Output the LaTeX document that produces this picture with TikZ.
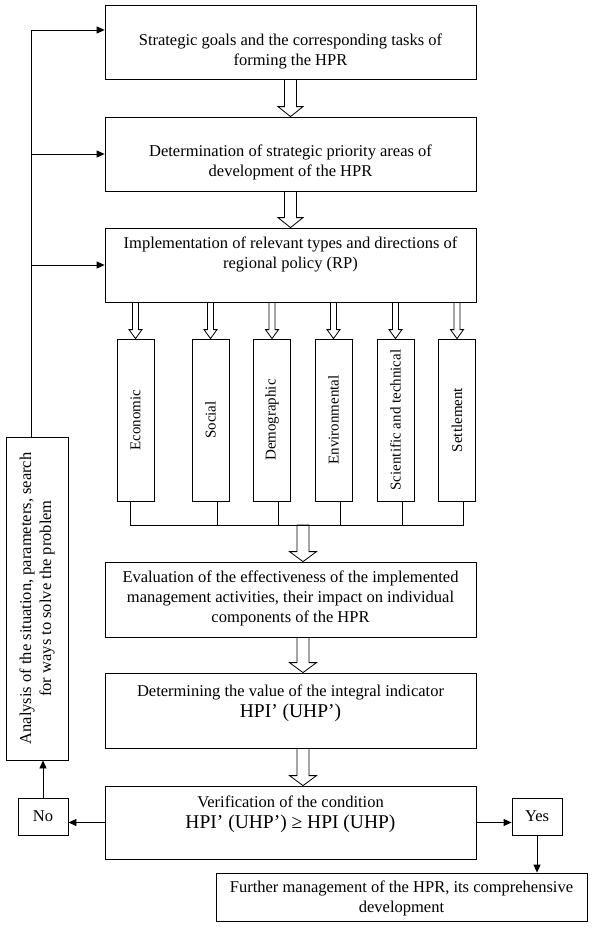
\documentclass[tikz,border=0pt]{standalone}
\usepackage{fontspec}
\setmainfont{Liberation Serif}
\usetikzlibrary{arrows.meta,calc}
\newcommand{\harw}[6]{% from, to, xoffset, half shaft, half head, head length
  \draw[fill=white] let \p1=(#1), \p2=(#2) in
    ({\x2+#3pt-#4pt},\y1) -- ({\x2+#3pt-#4pt},{\y2+#6pt}) -- ({\x2+#3pt-#5pt},{\y2+#6pt})
    -- ({\x2+#3pt},\y2) -- ({\x2+#3pt+#5pt},{\y2+#6pt}) -- ({\x2+#3pt+#4pt},{\y2+#6pt})
    -- ({\x2+#3pt+#4pt},\y1) -- cycle;}
\begin{document}
\begin{tikzpicture}[x=1pt,y=-1pt,line width=0.8pt,
  box/.style={draw,inner sep=0pt},
  txt/.style={align=center,inner sep=0pt,font=\fontsize{16.5}{20}\selectfont},
  big/.style={align=center,inner sep=0pt,font=\fontsize{19.5}{22}\selectfont},
  vlab/.style={inner sep=0pt,rotate=90,font=\fontsize{15}{18}\selectfont},
  arr/.style={-{Triangle[length=8pt,width=7pt]}}]
\useasboundingbox (0,0) rectangle (594,927);
% main boxes
\node[box,minimum width=371pt,minimum height=74pt] (b1) at (290.5,42) {};
\node[box,minimum width=371pt,minimum height=74pt] (b2) at (290.5,154) {};
\node[box,minimum width=371pt,minimum height=74pt] (b3) at (290.5,265) {};
\node[box,minimum width=371pt,minimum height=75pt] (ev) at (290.5,599.5) {};
\node[box,minimum width=371pt,minimum height=75pt] (dt) at (290.5,710.5) {};
\node[box,minimum width=371pt,minimum height=73pt] (vf) at (290.5,822.5) {};
\node[box,minimum width=371pt,minimum height=48pt] (fu) at (401.5,897) {};
\node[box,minimum width=62pt,minimum height=323pt] (an) at (37,598.5) {};
\node[box,minimum width=50pt,minimum height=37pt,txt] (no) at (43,816.5) {No};
\node[box,minimum width=50pt,minimum height=37pt,txt] (yes) at (537,816.5) {Yes};
% sub boxes
\foreach \s/\x/\t in {s1/135.5/Economic,s2/210.5/Social,s3/272/Demographic,s4/333.5/Environmental,s5/395.5/Scientific and technical,s6/457/Settlement}{
  \node[box,minimum width=37pt,minimum height=162pt] (\s) at (\x,420) {};
  \node[vlab] (\s t) at (\s.center) {\t};
}
% texts
\node[txt] (t1) at (290.5,51) {Strategic goals and the corresponding tasks of\\forming the HPR};
\node[txt] (t2) at (290.5,162) {Determination of strategic priority areas of\\development of the HPR};
\node[txt] (t3) at (290.5,254) {Implementation of relevant types and directions of\\regional policy (RP)};
\node[txt] (tev) at (290.5,598.5) {Evaluation of the effectiveness of the implemented\\management activities, their impact on individual\\components of the HPR};
\node[txt] (tdt1) at (290.5,692) {Determining the value of the integral indicator};
\node[big] (tdt2) at (290.5,713) {HPI’ (UHP’)};
\node[txt] (tvf1) at (290.5,802) {Verification of the condition};
\node[big] (tvf2) at (290.5,824) {HPI’ (UHP’) ≥ HPI (UHP)};
\node[txt] (tfu) at (401.5,898.5) {Further management of the HPR, its comprehensive\\development};
\node[txt,rotate=90] (tan) at (37,598.5) {Analysis of the situation, parameters, search\\for ways to solve the problem};
% hollow arrows
\harw{b1.south}{b2.north}{0}{6}{12.5}{10}
\harw{b2.south}{b3.north}{0}{6}{12.5}{10}
\harw{b3.south}{s1.north}{0}{3}{6.5}{9}
\harw{b3.south}{s2.north}{0}{3}{6.5}{9}
\harw{b3.south}{s3.north}{0}{3}{6.5}{9}
\harw{b3.south}{s4.north}{0}{3}{6.5}{9}
\harw{b3.south}{s5.north}{0}{3}{6.5}{9}
\harw{b3.south}{s6.north}{0}{3}{6.5}{9}
\coordinate (bus) at (303,525);
\harw{bus}{ev.north}{12.5}{6}{13.5}{10}
\harw{ev.south}{dt.north}{12.5}{6}{13.5}{10}
\harw{dt.south}{vf.north}{12.5}{6}{13.5}{10}
% bus lines
\draw ([xshift=-5.5pt]s1.south) |- ([xshift=6pt]s6.south |- bus) -- ([xshift=6pt]s6.south);
\foreach \s in {s2,s3,s4,s5}{
  \draw ([xshift=6.5pt]\s.south) -- ([xshift=6.5pt]\s.south |- bus);
}
% feedback
\coordinate (L) at ([xshift=-6pt]an.north);
\draw[arr] (L) |- ([yshift=12pt]b1.west);
\draw[arr] (L |- b2.west) -- (b2.west);
\draw[arr] (L |- b3.west) -- (b3.west);
\draw[arr] (vf.west) -- (vf.west -| no.east);
\draw[arr] (vf.east) -- (vf.east -| yes.west);
\draw[arr] (no.north) -- (no.north |- an.south);
\draw[arr] (yes.south) -- (yes.south |- fu.north);
\end{tikzpicture}
\end{document}
